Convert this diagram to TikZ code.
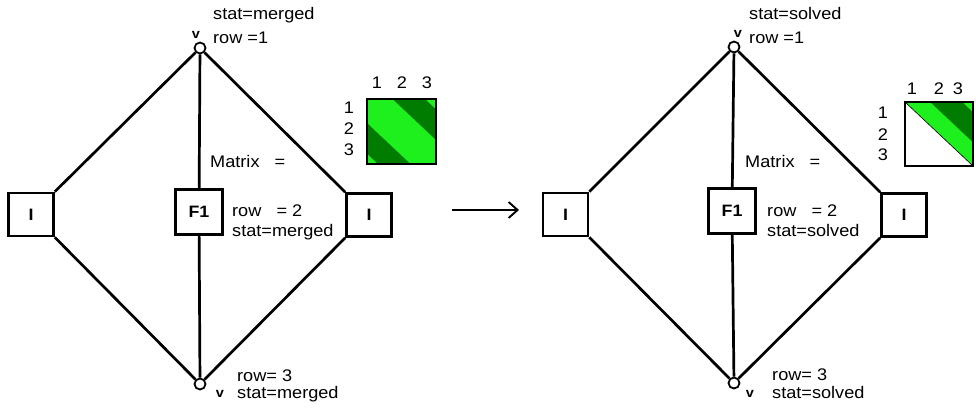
\documentclass[tikz,border=0pt]{standalone}
\usepackage{fontspec}
\setmainfont{Liberation Sans}[FakeStretch=1.08]
\usetikzlibrary{arrows.meta}
\definecolor{lgreen}{RGB}{30,240,30}
\definecolor{dgreen}{RGB}{0,125,0}
\tikzset{
  edge/.style={line width=2.7pt},
  blk/.style={draw, line width=2.7pt, inner sep=0pt, font=\bfseries\fontsize{16.5}{20}\selectfont},
  ibox/.style={blk, minimum width=45pt, minimum height=43pt},
  fbox/.style={blk, minimum width=47pt, minimum height=45pt},
  vtx/.style={circle, draw, line width=1.8pt, minimum size=11pt, inner sep=0pt, fill=white},
  lbl/.style={anchor=base west, inner sep=0pt, font=\fontsize{16.8}{20}\selectfont},
  vl/.style={anchor=base, inner sep=0pt, font=\bfseries\fontsize{13.5}{15}\selectfont},
  num/.style={anchor=base, inner sep=0pt, font=\fontsize{16.8}{20}\selectfont},
  mframe/.style={line width=2.7pt}
}
\begin{document}
\begin{tikzpicture}[x=1pt,y=-1pt]
\useasboundingbox (0,0) rectangle (976,408);

% ---------------- left diagram ----------------
\node[vtx] (t1) at (200,48) {};
\node[vtx] (b1) at (200,384) {};
\node[ibox] (l1) at (31,214.5) {I};
\node[ibox] (r1) at (369,215) {I};
\node[fbox] (f1) at (199,212) {F1};
\draw[edge] (t1) -- (l1.north east);
\draw[edge] (t1) -- (r1.north west);
\draw[edge] (t1) -- (f1);
\draw[edge] (f1) -- (b1);
\draw[edge] (l1.south east) -- (b1);
\draw[edge] (r1.south west) -- (b1);

\node[vl] (vt1) at (196,38) {v};
\node[vl] (vb1) at (220,397) {v};
\node[lbl] (s1a) at (213,19) {stat=merged};
\node[lbl] (s1b) at (213,43) {row =1};
\node[lbl] (m1) at (210,167) {Matrix\ \ \ =};
\node[lbl] (s1c) at (232,216) {row\ \ \ = 2};
\node[lbl] (s1d) at (232,236) {stat=merged};
\node[lbl] (s1e) at (237,381) {row= 3};
\node[lbl] (s1f) at (237,398) {stat=merged};

% matrix left
\node[num] (c11) at (377,88) {1};
\node[num] (c12) at (402,88) {2};
\node[num] (c13) at (427,88) {3};
\node[num] (r11) at (349,113) {1};
\node[num] (r12) at (349,134) {2};
\node[num] (r13) at (349,155) {3};
\begin{scope}[shift={(367,99)}, x={(69pt,0pt)}, y={(0pt,-65pt)}]
  \begin{scope}
    \clip (0,0) rectangle (1,1);
    \fill[lgreen] (0,0) rectangle (1,1);
    \fill[dgreen] (0.37,0) -- (0.84,0) -- (1.84,1) -- (1.37,1) -- cycle;
    \fill[dgreen] (-0.84,0) -- (-0.37,0) -- (0.63,1) -- (0.16,1) -- cycle;
  \end{scope}
  \draw[mframe] (0,0) rectangle (1,1);
\end{scope}

% ---------------- arrow ----------------
\coordinate (a1) at (452,210);
\coordinate (a2) at (519,210);
\draw[line width=1.9pt, -{Straight Barb[length=9pt,width=16pt,line width=1.9pt]}] (a1) -- (a2);

% ---------------- right diagram ----------------
\node[vtx] (t2) at (734,47) {};
\node[vtx] (b2) at (734,383) {};
\node[ibox] (l2) at (565.5,214.5) {I};
\node[ibox] (r2) at (904,215) {I};
\node[fbox] (f2) at (732,211) {F1};
\draw[edge] (t2) -- (l2.north east);
\draw[edge] (t2) -- (r2.north west);
\draw[edge] (t2) -- (f2);
\draw[edge] (f2) -- (b2);
\draw[edge] (l2.south east) -- (b2);
\draw[edge] (r2.south west) -- (b2);

\node[vl] (vt2) at (738,37) {v};
\node[vl] (vb2) at (750,397) {v};
\node[lbl] (s2a) at (749,19) {stat=solved};
\node[lbl] (s2b) at (749,43) {row =1};
\node[lbl] (m2) at (745,167) {Matrix\ \ \ =};
\node[lbl] (s2c) at (767,216) {row\ \ \ = 2};
\node[lbl] (s2d) at (767,236) {stat=solved};
\node[lbl] (s2e) at (772,380) {row= 3};
\node[lbl] (s2f) at (772,398) {stat=solved};

% matrix right
\node[num] (c21) at (912,94) {1};
\node[num] (c22) at (939,94) {2};
\node[num] (c23) at (958,94) {3};
\node[num] (r21) at (883,118) {1};
\node[num] (r22) at (883,140) {2};
\node[num] (r23) at (883,160) {3};
\begin{scope}[shift={(905,102)}, x={(68pt,0pt)}, y={(0pt,-64pt)}]
  \begin{scope}
    \clip (0,0) rectangle (1,1);
    \fill[white] (0,0) rectangle (1,1);
    \fill[lgreen] (0,0) -- (1,0) -- (1,1) -- cycle;
    \fill[dgreen] (0.37,0) -- (0.84,0) -- (1.84,1) -- (1.37,1) -- cycle;
    \draw[line width=0.6pt] (0,0) -- (1,1);
  \end{scope}
  \draw[mframe] (0,0) rectangle (1,1);
\end{scope}
\end{tikzpicture}
\end{document}
